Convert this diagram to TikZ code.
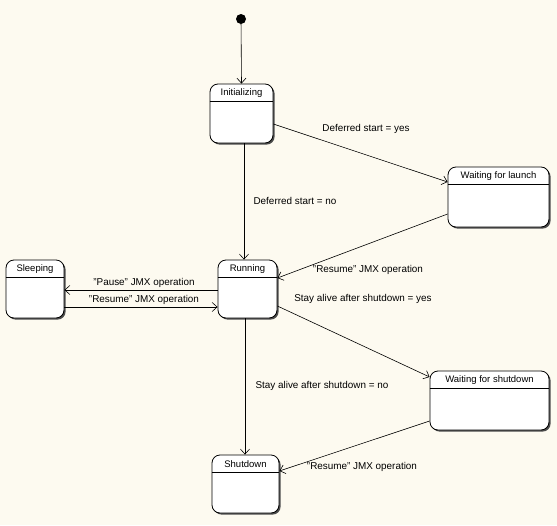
\documentclass[tikz,border=0pt]{standalone}
\usepackage{fontspec}
\setmainfont{Liberation Sans}
\usetikzlibrary{arrows.meta,shadows,calc}
\definecolor{bg}{RGB}{253,250,240}
\tikzset{
  x=1pt,y=-1pt,
  stbox/.style={draw=black, fill=white, rounded corners=8pt, line width=0.8pt,
    drop shadow={shadow xshift=1.6pt, shadow yshift=-1.6pt, fill=black!70, opacity=1}},
  ttl/.style={font=\fontsize{9.5}{10}\selectfont, inner sep=0pt},
  lbl/.style={font=\fontsize{9.9}{11}\selectfont, inner sep=1pt},
  tr/.style={draw=black, line width=0.6pt, -{Straight Barb[length=5pt,width=9pt,line width=0.6pt]}},
}
\newcommand{\mystate}[6]{% name, x1, y1, x2, y2, title
  \node[stbox, minimum width={#4-#2}, minimum height={#5-#3}, inner sep=0pt] (#1) at ({(#2+#4)/2},{(#3+#5)/2}) {};
  \draw[line width=0.6pt] ([yshift=-18pt]#1.north west) -- ([yshift=-18pt]#1.north east);
  \node[ttl] (#1t) at ([yshift=-9pt]#1.north) {#6};
}
\begin{document}
\begin{tikzpicture}
\fill[bg] (0,0) rectangle (557,525);
\useasboundingbox (0,0) rectangle (557,525);
\node[circle, fill=black, minimum size=10pt, inner sep=0pt] (start) at (241,19) {};
\mystate{init}{210}{84}{273}{143}{Initializing}
\mystate{wlaunch}{448}{167}{549}{227}{Waiting for launch}
\mystate{sleep}{6}{260}{64}{318}{Sleeping}
\mystate{run}{218}{260}{277}{318}{Running}
\mystate{wshut}{430}{371}{549}{430}{Waiting for shutdown}
\mystate{shut}{212}{455}{279}{513}{Shutdown}

\draw[tr] (start) -- (init.north);
\draw[tr] (init.east |- 0,124) -- (wlaunch.west |- 0,182);
\node[lbl] (l1) at (366,129) {Deferred start = yes};
\draw[tr] (init.south -| 244,0) -- (run.north -| 244,0);
\node[lbl] (l2) at (295,201) {Deferred start = no};
\draw[tr] (wlaunch.west |- 0,214) -- (run.east |- 0,278);
\node[lbl] (l3) at (368,270) {"Resume" JMX operation};
\draw[tr] (run.west |- 0,290) -- (sleep.east |- 0,290);
\node[lbl] (l4) at (144,283) {"Pause" JMX operation};
\draw[tr] (sleep.east |- 0,307) -- (run.west |- 0,307);
\node[lbl] (l5) at (144,300) {"Resume" JMX operation};
\draw[tr] (run.east |- 0,306) -- (wshut.west |- 0,377);
\node[lbl] (l6) at (363,299) {Stay alive after shutdown = yes};
\draw[tr] (run.south -| 245,0) -- (shut.north -| 245,0);
\node[lbl] (l7) at (322,386) {Stay alive after shutdown = no};
\draw[tr] (wshut.west |- 0,421) -- (shut.east |- 0,471);
\node[lbl] (l8) at (362,467) {"Resume" JMX operation};
\end{tikzpicture}
\end{document}
